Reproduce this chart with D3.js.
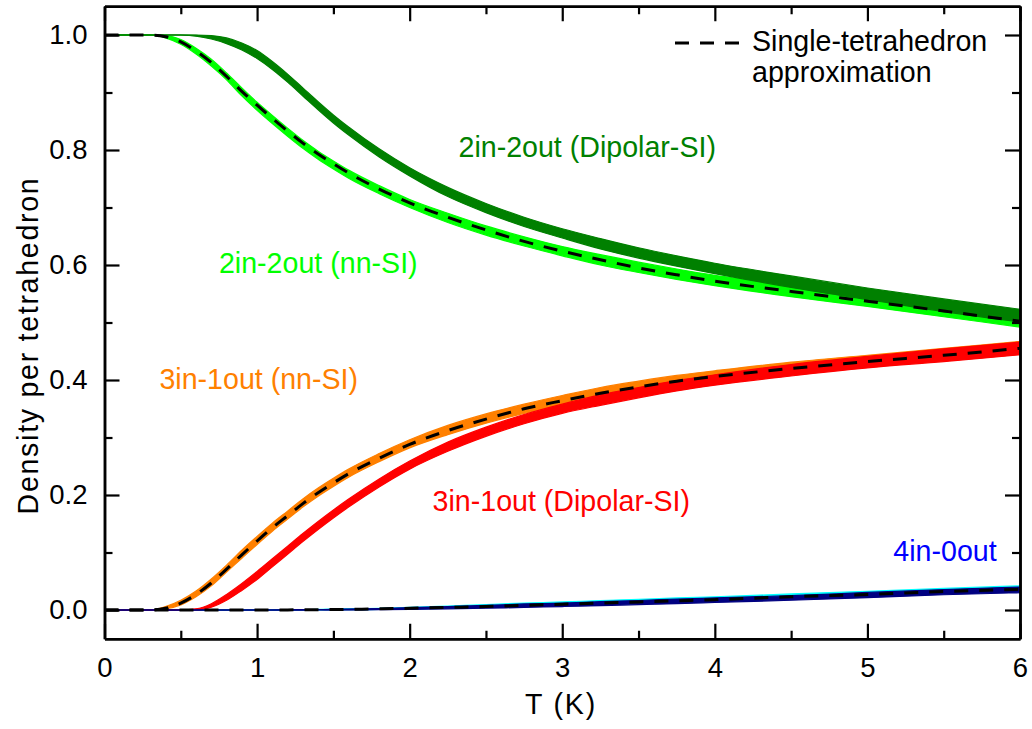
<!DOCTYPE html>
<html>
<head>
<meta charset="utf-8">
<script src="https://cdn.jsdelivr.net/npm/d3@7"></script>
<style>
  html, body { margin: 0; padding: 0; background: #fff; }
  svg { display: block; font-family: "Liberation Sans", Arial, Helvetica, sans-serif; }
</style>
</head>
<body>
<svg id="chart" width="1032" height="729"></svg>
<script>
// Temperature grid (K)
const temps = [0, 0.2, 0.3, 0.4, 0.5, 0.6, 0.7, 0.8, 0.9, 1.0, 1.1, 1.2, 1.3, 1.4, 1.5, 1.6, 1.8, 2.0, 2.25, 2.5, 2.75, 3.0, 3.25, 3.5, 3.75, 4.0, 4.5, 5.0, 5.5, 6.0];

// Single-tetrahedron approximation
const single2in2out = [1.0, 1.0, 1.0, 0.997, 0.988, 0.972, 0.952, 0.928, 0.902, 0.878, 0.855, 0.833, 0.812, 0.793, 0.776, 0.760, 0.732, 0.708, 0.683, 0.661, 0.641, 0.624, 0.609, 0.595, 0.583, 0.572, 0.554, 0.537, 0.520, 0.502];
const single3in1out = [0, 0, 0, 0.003, 0.012, 0.027, 0.047, 0.071, 0.096, 0.120, 0.143, 0.164, 0.185, 0.204, 0.221, 0.237, 0.264, 0.288, 0.312, 0.332, 0.350, 0.364, 0.377, 0.388, 0.398, 0.406, 0.420, 0.432, 0.443, 0.455];
const single4in0out = [0, 0, 0, 0, 0, 0, 0, 0, 0, 0, 0.0001, 0.0002, 0.0003, 0.0005, 0.0008, 0.0011, 0.002, 0.003, 0.0045, 0.006, 0.008, 0.010, 0.012, 0.014, 0.016, 0.018, 0.023, 0.027, 0.032, 0.036];

// Nearest-neighbour spin ice (nn-SI)
const nn2in2out = [1.0, 1.0, 1.0, 0.997, 0.988, 0.972, 0.952, 0.928, 0.901, 0.876, 0.853, 0.831, 0.810, 0.791, 0.774, 0.758, 0.731, 0.707, 0.682, 0.660, 0.641, 0.624, 0.609, 0.596, 0.584, 0.573, 0.555, 0.538, 0.521, 0.503];
const nn3in1out = [0, 0, 0, 0.004, 0.013, 0.028, 0.048, 0.072, 0.097, 0.121, 0.144, 0.165, 0.186, 0.205, 0.222, 0.238, 0.265, 0.289, 0.313, 0.333, 0.350, 0.365, 0.378, 0.389, 0.399, 0.407, 0.421, 0.433, 0.444, 0.456];
const nn4in0out = [0, 0, 0, 0, 0, 0, 0, 0, 0, 0, 0.0001, 0.0002, 0.0004, 0.0006, 0.0009, 0.0012, 0.002, 0.003, 0.005, 0.007, 0.009, 0.011, 0.013, 0.015, 0.017, 0.019, 0.024, 0.028, 0.033, 0.037];

// Dipolar spin ice (Dipolar-SI)
const dip2in2out = [1.0, 1.0, 1.0, 1.0, 1.0, 0.999, 0.996, 0.990, 0.980, 0.966, 0.947, 0.925, 0.901, 0.877, 0.854, 0.833, 0.795, 0.762, 0.727, 0.699, 0.675, 0.655, 0.637, 0.621, 0.607, 0.594, 0.571, 0.550, 0.530, 0.512];
const dip3in1out = [0, 0, 0, 0, 0, 0.001, 0.008, 0.022, 0.040, 0.060, 0.082, 0.104, 0.126, 0.147, 0.167, 0.186, 0.221, 0.252, 0.284, 0.310, 0.332, 0.350, 0.365, 0.378, 0.390, 0.400, 0.417, 0.431, 0.443, 0.455];
const dip4in0out = [0, 0, 0, 0, 0, 0, 0, 0, 0, 0, 0, 0.0001, 0.0002, 0.0004, 0.0006, 0.0009, 0.0016, 0.0025, 0.004, 0.0055, 0.0075, 0.009, 0.011, 0.013, 0.015, 0.017, 0.021, 0.026, 0.031, 0.035];

// Half-width of the fluctuation band around each simulated curve
const nn2in2outSpread  = [0, 0, 0, 0.002, 0.004, 0.005, 0.006, 0.006, 0.007, 0.007, 0.007, 0.007, 0.007, 0.007, 0.007, 0.007, 0.007, 0.007, 0.008, 0.008, 0.008, 0.008, 0.009, 0.009, 0.009, 0.009, 0.010, 0.010, 0.011, 0.011];
const nn3in1outSpread  = [0, 0, 0, 0.002, 0.004, 0.005, 0.006, 0.006, 0.007, 0.007, 0.007, 0.007, 0.007, 0.007, 0.007, 0.007, 0.007, 0.007, 0.008, 0.008, 0.008, 0.008, 0.009, 0.009, 0.009, 0.009, 0.010, 0.010, 0.011, 0.011];
const nn4in0outSpread  = [0, 0, 0, 0, 0, 0, 0, 0, 0, 0, 0, 0, 0, 0, 0.0005, 0.0008, 0.001, 0.0015, 0.002, 0.0025, 0.003, 0.003, 0.0035, 0.0035, 0.004, 0.004, 0.004, 0.0045, 0.0045, 0.005];
const dip2in2outSpread = [0, 0, 0, 0, 0, 0.001, 0.003, 0.005, 0.006, 0.007, 0.007, 0.007, 0.007, 0.007, 0.007, 0.007, 0.007, 0.007, 0.008, 0.008, 0.008, 0.008, 0.009, 0.009, 0.009, 0.009, 0.010, 0.010, 0.011, 0.011];
const dip3in1outSpread = [0, 0, 0, 0, 0, 0.001, 0.003, 0.005, 0.006, 0.007, 0.007, 0.007, 0.007, 0.007, 0.007, 0.007, 0.007, 0.007, 0.008, 0.008, 0.008, 0.008, 0.009, 0.009, 0.009, 0.009, 0.010, 0.010, 0.011, 0.011];
const dip4in0outSpread = [0, 0, 0, 0, 0, 0, 0, 0, 0, 0, 0, 0, 0, 0, 0.0005, 0.0008, 0.001, 0.0015, 0.002, 0.0025, 0.003, 0.003, 0.0035, 0.0035, 0.004, 0.004, 0.004, 0.0045, 0.0045, 0.005];

// Axis ticks
const xMajorTicks = [0, 1, 2, 3, 4, 5, 6];
const xMinorTicks = [0.5, 1.5, 2.5, 3.5, 4.5, 5.5];
const yMajorTicks = [0, 0.2, 0.4, 0.6, 0.8, 1.0];
const yMinorTicks = [0.1, 0.3, 0.5, 0.7, 0.9];

// Series styling and in-plot labels
const simSeries = [
  { values: nn2in2out,  spread: nn2in2outSpread,  color: "#00ff00" },
  { values: nn3in1out,  spread: nn3in1outSpread,  color: "#ff8000" },
  { values: nn4in0out,  spread: nn4in0outSpread,  color: "#00ffff" },
  { values: dip2in2out, spread: dip2in2outSpread, color: "#008000" },
  { values: dip3in1out, spread: dip3in1outSpread, color: "#ff0000" },
  { values: dip4in0out, spread: dip4in0outSpread, color: "#000080" }
];
const approxSeries = [single2in2out, single3in1out, single4in0out];

const curveLabels = [
  { text: "2in-2out (Dipolar-SI)", x: 2.32, y: 0.788, color: "#008000" },
  { text: "2in-2out (nn-SI)",      x: 0.75, y: 0.586, color: "#00ff00" },
  { text: "3in-1out (nn-SI)",      x: 0.36, y: 0.384, color: "#ff8000" },
  { text: "3in-1out (Dipolar-SI)", x: 2.15, y: 0.172, color: "#ff0000" },
  { text: "4in-0out",              x: 5.17, y: 0.086, color: "#0000ff" }
];

const svg = d3.select("#chart");
const plotLeft = 104.5, plotRight = 1020, plotTop = 6.25, plotBottom = 638.75;
const textSize = "28.6px";

const x = d3.scaleLinear().domain([0, 6]).range([plotLeft, plotRight]);
const y = d3.scaleLinear().domain([-0.05, 1.05]).range([plotBottom, plotTop]);

const plot = svg.append("g");

// Fluctuation bands and centre lines of the simulated curves
const band = d3.area()
  .x((d, i) => x(temps[i]))
  .y0(d => y(d.v - d.s))
  .y1(d => y(d.v + d.s))
  .curve(d3.curveMonotoneX);
const line = d3.line()
  .x((d, i) => x(temps[i]))
  .y(d => y(d))
  .curve(d3.curveMonotoneX);

simSeries.forEach(s => {
  const pts = s.values.map((v, i) => ({ v, s: s.spread[i] }));
  plot.append("path")
    .attr("d", band(pts))
    .attr("fill", s.color)
    .attr("stroke", s.color)
    .attr("stroke-width", 1.2);
  plot.append("path")
    .attr("d", line(s.values))
    .attr("fill", "none")
    .attr("stroke", s.color)
    .attr("stroke-width", 1.6);
});

// Single-tetrahedron approximation (dashed)
approxSeries.forEach(vals => {
  plot.append("path")
    .attr("d", line(vals))
    .attr("fill", "none")
    .attr("stroke", "#000")
    .attr("stroke-width", 3)
    .attr("stroke-dasharray", "14,11");
});

// Axes: ticks point into the plot on all four sides
function styleAxis(g) {
  g.select(".domain").attr("stroke", "#000").attr("stroke-width", 2.5);
  g.selectAll(".tick line").attr("stroke", "#000").attr("stroke-width", 2.2);
  g.selectAll(".tick text").attr("fill", "#000").style("font-size", "27.5px")
    .style("font-family", "'Liberation Sans', Arial, sans-serif");
}

svg.append("g").attr("transform", `translate(0,${plotBottom})`)
  .call(d3.axisBottom(x).tickValues(xMinorTicks).tickSize(-8).tickSizeOuter(0).tickFormat(""))
  .call(styleAxis);
svg.append("g").attr("transform", `translate(0,${plotBottom})`)
  .call(d3.axisBottom(x).tickValues(xMajorTicks).tickSize(-15).tickSizeOuter(0).tickPadding(19).tickFormat(d3.format("d")))
  .call(styleAxis);
svg.append("g").attr("transform", `translate(0,${plotTop})`)
  .call(d3.axisTop(x).tickValues(xMinorTicks).tickSize(-8).tickSizeOuter(0).tickFormat(""))
  .call(styleAxis);
svg.append("g").attr("transform", `translate(0,${plotTop})`)
  .call(d3.axisTop(x).tickValues(xMajorTicks).tickSize(-15).tickSizeOuter(0).tickFormat(""))
  .call(styleAxis);

svg.append("g").attr("transform", `translate(${plotLeft},0)`)
  .call(d3.axisLeft(y).tickValues(yMinorTicks).tickSize(-8).tickSizeOuter(0).tickFormat(""))
  .call(styleAxis);
svg.append("g").attr("transform", `translate(${plotLeft},0)`)
  .call(d3.axisLeft(y).tickValues(yMajorTicks).tickSize(-15).tickSizeOuter(0).tickPadding(17).tickFormat(d3.format(".1f")))
  .call(styleAxis);
svg.append("g").attr("transform", `translate(${plotRight},0)`)
  .call(d3.axisRight(y).tickValues(yMinorTicks).tickSize(-8).tickSizeOuter(0).tickFormat(""))
  .call(styleAxis);
svg.append("g").attr("transform", `translate(${plotRight},0)`)
  .call(d3.axisRight(y).tickValues(yMajorTicks).tickSize(-15).tickSizeOuter(0).tickFormat(""))
  .call(styleAxis);

// Axis titles
svg.append("text")
  .attr("x", 561)
  .attr("y", 714)
  .attr("text-anchor", "middle")
  .style("font-size", textSize)
  .style("letter-spacing", "1.8px")
  .text("T (K)");
svg.append("text")
  .attr("transform", `translate(38,${(plotTop + plotBottom) / 2 + 23}) rotate(-90)`)
  .attr("text-anchor", "middle")
  .style("font-size", textSize)
  .style("letter-spacing", "1.7px")
  .text("Density per tetrahedron");

// Curve labels
svg.selectAll("text.curve-label")
  .data(curveLabels)
  .join("text")
  .attr("class", "curve-label")
  .attr("x", d => x(d.x))
  .attr("y", d => y(d.y))
  .attr("fill", d => d.color)
  .style("font-size", textSize)
  .text(d => d.text);

// Legend
const legend = svg.append("g");
legend.append("line")
  .attr("x1", 675).attr("x2", 739)
  .attr("y1", 43).attr("y2", 43)
  .attr("stroke", "#000").attr("stroke-width", 3)
  .attr("stroke-dasharray", "14,11");
legend.append("text").attr("x", 752).attr("y", 51).style("font-size", textSize).text("Single-tetrahedron");
legend.append("text").attr("x", 752).attr("y", 82).style("font-size", textSize).text("approximation");
</script>
</body>
</html>
